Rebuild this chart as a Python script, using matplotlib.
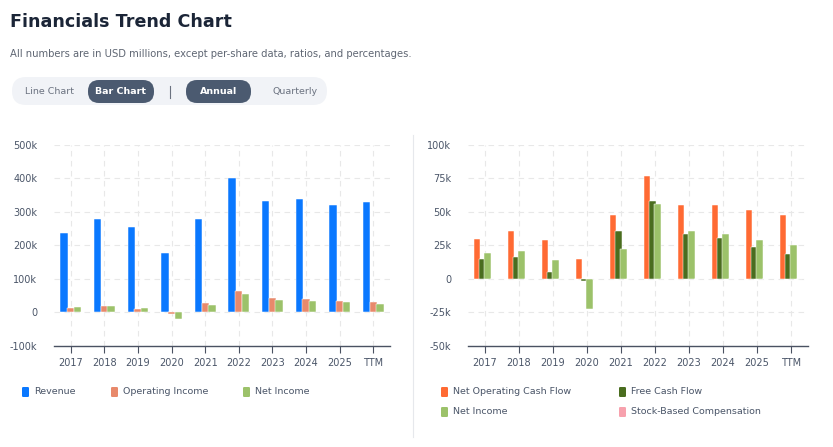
import numpy as np
import matplotlib.pyplot as plt
from matplotlib.patches import FancyBboxPatch
from matplotlib.ticker import FuncFormatter

# ---------------------------------------------------------------------------
# Data (USD millions)
# ---------------------------------------------------------------------------
years = ['2017', '2018', '2019', '2020', '2021', '2022', '2023', '2024', '2025', 'TTM']

revenue = [236000, 278000, 254000, 176000, 280000, 400000, 333000, 338000, 322000, 329000]
operating_income = [13000, 20000, 11000, -4000, 27000, 64000, 43000, 40000, 34000, 31000]
net_income_left = [17000, 20000, 13000, -20000, 23000, 56000, 36000, 34000, 30000, 25000]

net_op_cash_flow = [29700, 35900, 28900, 14500, 47600, 76800, 54900, 54900, 51400, 47400]
free_cash_flow = [14500, 16200, 5000, -2000, 35900, 58400, 33200, 30400, 23700, 18500]
net_income_right = [19500, 20700, 14000, -22200, 22400, 55600, 35900, 33400, 28700, 25200]
stock_comp = [0, 0, 0, 0, 0, 0, 0, 0, 0, 0]

left_ticks = [-100000, 0, 100000, 200000, 300000, 400000, 500000]
right_ticks = [-50000, -25000, 0, 25000, 50000, 75000, 100000]

# colours
c_rev = '#0a78ff'
c_opi = '#e8896b'
c_ni = '#9cc26a'
c_nocf = '#ff6a33'
c_fcf = '#4a6d1f'
c_sbc = '#f7a1ad'
c_text = '#4a5568'
c_title = '#1b2537'

W, H = 833, 447
plt.rcParams['font.family'] = ['DejaVu Sans']
fig = plt.figure(figsize=(W / 100, H / 100), dpi=100)
fig.patch.set_facecolor('white')

# overlay in pixel coordinates for header, toggles, separator and legends
ov = fig.add_axes([0, 0, 1, 1], zorder=0)
ov.set_xlim(0, W)
ov.set_ylim(H, 0)
ov.axis('off')

ov.text(10, 22, 'Financials Trend Chart', fontsize=12.6, fontweight='bold',
        color=c_title, va='center', ha='left')
ov.text(10, 54, 'All numbers are in USD millions, except per-share data, ratios, and percentages.',
        fontsize=7.2, color='#5f6673', va='center', ha='left')

# toggle bar
ov.add_patch(FancyBboxPatch((12, 77), 315, 28, boxstyle='round,pad=0,rounding_size=14',
                            fc='#f1f3f7', ec='none'))
ov.add_patch(FancyBboxPatch((88, 80), 66, 23, boxstyle='round,pad=0,rounding_size=11',
                            fc='#4b5a70', ec='none'))
ov.add_patch(FancyBboxPatch((186, 80), 65, 23, boxstyle='round,pad=0,rounding_size=11',
                            fc='#4b5a70', ec='none'))
ov.text(50, 92, 'Line Chart', fontsize=6.8, color='#6b7280', ha='center', va='center')
ov.text(121, 92, 'Bar Chart', fontsize=6.8, color='white', fontweight='bold', ha='center', va='center')
ov.plot([170, 170], [86, 98], color='#6b7280', lw=0.8)
ov.text(218.5, 92, 'Annual', fontsize=6.8, color='white', fontweight='bold', ha='center', va='center')
ov.text(295, 92, 'Quarterly', fontsize=6.8, color='#6b7280', ha='center', va='center')

# separator between panels
ov.plot([413, 413], [135, 437], color='#e6e8ec', lw=0.8)

# legends
def legend_item(x, y, color, label):
    ov.add_patch(FancyBboxPatch((x - 4, y - 5), 7, 10, boxstyle='round,pad=0,rounding_size=1.2',
                                fc=color, ec='none'))
    ov.text(x + 8, y, label, fontsize=6.8, color=c_text, ha='left', va='center')

legend_item(26, 392, c_rev, 'Revenue')
legend_item(115, 392, c_opi, 'Operating Income')
legend_item(247, 392, c_ni, 'Net Income')
legend_item(445, 392, c_nocf, 'Net Operating Cash Flow')
legend_item(623, 392, c_fcf, 'Free Cash Flow')
legend_item(445, 412, c_ni, 'Net Income')
legend_item(623, 412, c_sbc, 'Stock-Based Compensation')


def kfmt(v, _):
    return '0' if v == 0 else f'{int(v / 1000)}k'


def style_axis(ax, ticks):
    x = np.arange(len(years))
    ax.set_xlim(-0.5, len(years) - 0.5)
    ax.set_ylim(ticks[0], ticks[-1])
    ax.set_yticks(ticks)
    ax.yaxis.set_major_formatter(FuncFormatter(kfmt))
    ax.set_xticks(x)
    ax.set_xticklabels(years)
    ax.grid(True, color='#e8e8e8', linestyle=(0, (5, 4)), lw=0.8)
    ax.set_axisbelow(True)
    for s in ['top', 'right', 'left']:
        ax.spines[s].set_visible(False)
    ax.spines['bottom'].set_color('#4a5262')
    ax.spines['bottom'].set_linewidth(1.0)
    ax.tick_params(axis='y', length=0, pad=12, labelsize=7, labelcolor=c_text)
    ax.tick_params(axis='x', length=5, width=0.8, color='#4a5262', pad=4,
                   labelsize=7, labelcolor=c_text)
    ax.patch.set_alpha(0)


x = np.arange(len(years))

# left panel
ax1 = fig.add_axes([54 / W, 1 - 345.7 / H, 336 / W, 200.7 / H], zorder=2)
bw = 0.2
for off, vals, col in [(-1, revenue, c_rev), (0, operating_income, c_opi), (1, net_income_left, c_ni)]:
    ax1.bar(x + off * bw, vals, width=bw + 0.02, color=col, edgecolor='white', linewidth=0.35, zorder=3)
style_axis(ax1, left_ticks)

# right panel
ax2 = fig.add_axes([468 / W, 1 - 345.7 / H, 340 / W, 200.7 / H], zorder=2)
bw2 = 0.16
for off, vals, col in [(-1.5, net_op_cash_flow, c_nocf), (-0.5, free_cash_flow, c_fcf),
                       (0.5, net_income_right, c_ni), (1.5, stock_comp, c_sbc)]:
    ax2.bar(x + off * bw2, vals, width=bw2 + 0.03, color=col, edgecolor='white', linewidth=0.35, zorder=3)
style_axis(ax2, right_ticks)

fig.savefig('out.png', dpi=100)
